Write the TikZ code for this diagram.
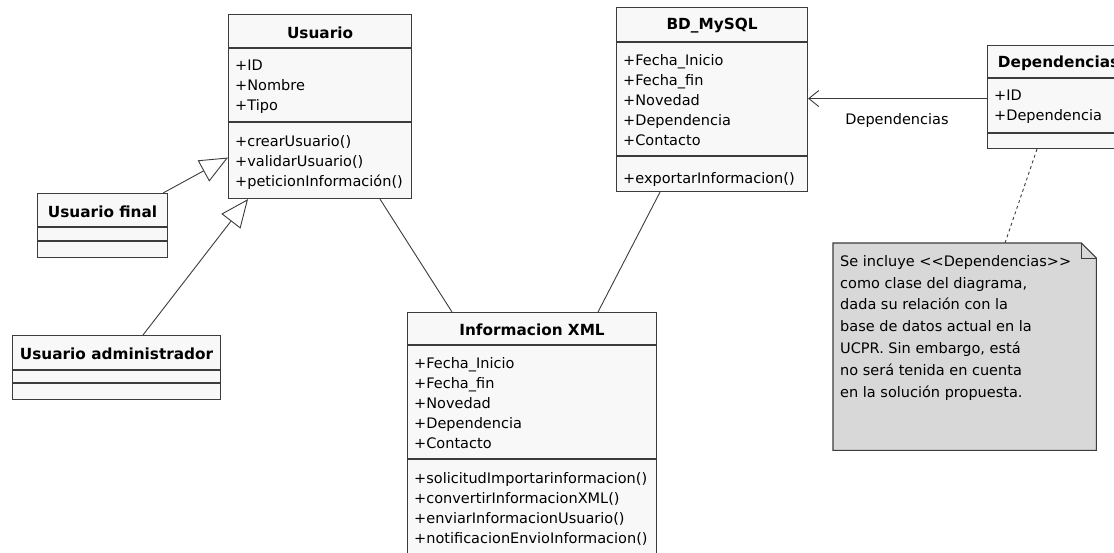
\documentclass[tikz,border=0pt]{standalone}
\usepackage{fontspec}
\setmainfont{DejaVu Sans}
\usetikzlibrary{arrows.meta}

\definecolor{boxfill}{HTML}{F8F8F8}
\definecolor{ink}{HTML}{3C3C3C}
\definecolor{notefill}{HTML}{D8D8D8}

\tikzset{
  classbox/.style={draw=ink, fill=boxfill, line width=1.1pt, rectangle,
    anchor=north west, inner sep=0pt},
  classtitle/.style={font=\bfseries\fontsize{15.3}{20}\selectfont, inner sep=0pt},
  members/.style={font=\fontsize{14.5}{20}\selectfont, align=left,
    anchor=north west, inner sep=0pt, execute at begin node=\strut},
  sepline/.style={draw=ink, line width=1.1pt},
  assoc/.style={draw=ink, line width=0.9pt},
  gen/.style={assoc, -{Triangle[open, length=28pt, width=24pt, fill=white]}},
  depend/.style={assoc, -{Straight Barb[length=10pt, width=16pt]}},
  noteline/.style={draw=ink, line width=0.9pt, dash pattern=on 3pt off 3pt},
  notebody/.style={draw=ink, fill=notefill, line width=1.1pt},
  notetext/.style={font=\fontsize{14.5}{21.8}\selectfont, align=left,
    anchor=north west, inner sep=0pt, execute at begin node=\strut},
  plainlabel/.style={font=\fontsize{14.5}{20}\selectfont, inner sep=0pt},
}

% class box: name, position, width, height, header height,
% offset of the second separator, title, attributes, operations
\newcommand\umlclass[9]{%
  \node[classbox, minimum width=#3pt, minimum height=#4pt] (#1) at (#2) {};
  \draw[sepline] ([yshift=-#5pt]#1.north west) -- ([yshift=-#5pt]#1.north east);
  \draw[sepline] ([yshift=-#6pt]#1.north west) -- ([yshift=-#6pt]#1.north east);
  \node[classtitle] (#1-t) at ([yshift={-(#5/2+1.5)*1pt}]#1.north) {#7};
  \node[members] (#1-a) at ([xshift=7pt, yshift={-(#5+12)*1pt}]#1.north west) {#8};
  \node[members] (#1-m) at ([xshift=7pt, yshift={-(#6+13)*1pt}]#1.north west) {#9};
}

\begin{document}
\begin{tikzpicture}[x=1pt, y=-1pt]
  \useasboundingbox (0,0) rectangle (1114,553);
  \clip (0,0) rectangle (1114,553);
  \fill[white] (0,0) rectangle (1114,553);

  % classes
  \umlclass{usuario}{228,14}{183}{184}{34}{108}{Usuario}
    {+ID\\+Nombre\\+Tipo}
    {+crearUsuario()\\+validarUsuario()\\+peticionInformación()}
  \umlclass{bd}{616,7}{191}{184}{35}{149}{BD\_MySQL}
    {+Fecha\_Inicio\\+Fecha\_fin\\+Novedad\\+Dependencia\\+Contacto}
    {+exportarInformacion()}
  \umlclass{deps}{987,45}{142}{103}{33}{88}{Dependencias}
    {+ID\\+Dependencia}
    {}
  \umlclass{ufinal}{37,193}{130}{64}{34}{48}{Usuario final}{}{}
  \umlclass{uadmin}{12,335}{208}{64}{35}{48}{Usuario administrador}{}{}
  \umlclass{xml}{407,312}{249}{260}{33}{147}{Informacion XML}
    {+Fecha\_Inicio\\+Fecha\_fin\\+Novedad\\+Dependencia\\+Contacto}
    {+solicitudImportarinformacion()\\+convertirInformacionXML()\\+enviarInformacionUsuario()\\+notificacionEnvioInformacion()}

  % generalizations
  \draw[gen] ([xshift=-5pt]ufinal.north east) -- ([yshift=-51pt]usuario.west);
  \draw[gen] ([xshift=131pt]uadmin.north west) -- ([xshift=20pt]usuario.south west);

  % associations
  \draw[assoc] ([xshift=152pt]usuario.south west) -- ([xshift=45pt]xml.north west);
  \draw[assoc] ([xshift=44pt]bd.south west) -- ([xshift=191pt]xml.north west);

  % dependency
  \draw[depend] ([yshift=-1.5pt]deps.west) -- ([yshift=-1.5pt]deps.west -| bd.east);
  \node[plainlabel] (deplabel) at (897,121) {Dependencias};

  % note
  \node[minimum width=263pt, minimum height=207pt, anchor=north west, inner sep=0pt]
    (note) at (833,243) {};
  \path[notebody] (note.north west) -- ([xshift=-15pt]note.north east)
    -- ([yshift=-15pt]note.north east) -- (note.south east)
    -- (note.south west) -- cycle;
  \draw[ink, line width=0.9pt] ([xshift=-15pt]note.north east)
    |- ([yshift=-15pt]note.north east);
  \node[notetext] (notetxt) at ([xshift=7pt, yshift=-12pt]note.north west)
    {Se incluye <\kern0pt<Dependencias>\kern0pt>\\como clase del diagrama,\\dada su relación con la\\base de datos actual en la\\UCPR. Sin embargo, está\\no será tenida en cuenta\\en la solución propuesta.};
  \draw[noteline] ([xshift=50pt]deps.south west) -- ([xshift=172pt]note.north west);
\end{tikzpicture}
\end{document}
